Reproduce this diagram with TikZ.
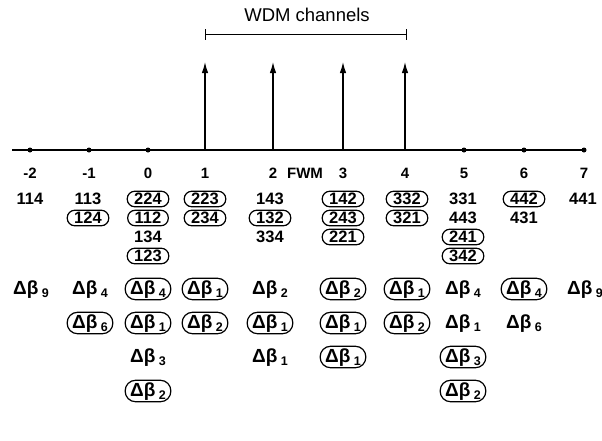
\documentclass[tikz,border=0pt]{standalone}
\usepackage{fontspec}
\setmainfont{Liberation Sans}
\usetikzlibrary{arrows.meta}
\newcommand\dbx[1]{Δβ\kern3.5pt\raisebox{-3.5pt}{\fontsize{12.5}{12.5}\selectfont #1}}
\begin{document}
\begin{tikzpicture}[x=1pt,y=-1pt,
  num/.style={font=\bfseries\fontsize{16.5}{16.5}\selectfont, inner sep=0pt, text height=11.8pt, text depth=0pt, anchor=center},
  cnum/.style={num, draw, line width=1.2pt, rounded corners=7.5pt, minimum height=15.5pt, inner xsep=7pt},
  db/.style={font=\bfseries\fontsize{19}{19}\selectfont, inner sep=0pt, text height=14pt, text depth=3.5pt, anchor=center},
  cdb/.style={db, draw, line width=1.2pt, rounded corners=10.5pt, minimum height=21.5pt, inner xsep=5pt},
  axlab/.style={font=\bfseries\fontsize{15}{15}\selectfont, inner sep=0pt, text height=11pt, text depth=0pt},
  dot/.style={circle, fill, inner sep=0pt, minimum size=5pt},
  chan/.style={line width=1.3pt, -{Latex[length=11pt,width=6.5pt]}}
]
\useasboundingbox (0,0) rectangle (602,440);
% title and bracket
\node[font=\fontsize{18.5}{18.5}\selectfont, inner sep=0pt] (title) at (307,15) {WDM channels};
\coordinate (brL) at (205,34);
\coordinate (brR) at (406,34);
\draw[line width=1pt] (brL) -- (brR);
\draw[line width=1pt] ([yshift=-5.5]brL) -- ([yshift=5.5]brL);
\draw[line width=1pt] ([yshift=-5.5]brR) -- ([yshift=5.5]brR);
% axis
\coordinate (axL) at (12,150);
\coordinate (axR) at (586,150);
\draw[line width=1.3pt] (axL) -- (axR);
\node[dot] (dm2) at (30,150) {};
\node[dot] (dm1) at (89,150) {};
\node[dot] (d0) at (148,150) {};
\node[dot] (d5) at (464,150) {};
\node[dot] (d6) at (524,150) {};
\node[dot] (d7) at (584,150) {};
% channels
\coordinate (b1) at (205,150); \coordinate (t1) at (205,62);
\coordinate (b2) at (273,150); \coordinate (t2) at (273,62);
\coordinate (b3) at (343,150); \coordinate (t3) at (343,62);
\coordinate (b4) at (405,150); \coordinate (t4) at (405,62);
\draw[chan] (b1) -- (t1);
\draw[chan] (b2) -- (t2);
\draw[chan] (b3) -- (t3);
\draw[chan] (b4) -- (t4);
% axis labels
\node[axlab] (lm2) at (30,173) {-2};
\node[axlab] (lm1) at (89,173) {-1};
\node[axlab] (l0) at (148,173) {0};
\node[axlab] (l1) at (205,173) {1};
\node[axlab] (l2) at (273,173) {2};
\node[axlab] (lfwm) at (305,173) {FWM};
\node[axlab] (l3) at (343,173) {3};
\node[axlab] (l4) at (405,173) {4};
\node[axlab] (l5) at (464,173) {5};
\node[axlab] (l6) at (524,173) {6};
\node[axlab] (l7) at (584,173) {7};
% FWM products
\node[num]  (p114) at (30,199) {114};
\node[num]  (p113) at (88,199) {113};
\node[cnum] (p224) at (148,199) {224};
\node[cnum] (p223) at (205,199) {223};
\node[num]  (p143) at (270,199) {143};
\node[cnum] (p142) at (343,199) {142};
\node[cnum] (p332) at (407,199) {332};
\node[num]  (p331) at (463,199) {331};
\node[cnum] (p442) at (524,199) {442};
\node[num]  (p441) at (583,199) {441};
\node[cnum] (p124) at (88,218) {124};
\node[cnum] (p112) at (148,218) {112};
\node[cnum] (p234) at (205,218) {234};
\node[cnum] (p132) at (270,218) {132};
\node[cnum] (p243) at (343,218) {243};
\node[cnum] (p321) at (407,218) {321};
\node[num]  (p443) at (463,218) {443};
\node[num]  (p431) at (524,218) {431};
\node[num]  (p134) at (148,237) {134};
\node[num]  (p334) at (270,237) {334};
\node[cnum] (p221) at (343,237) {221};
\node[cnum] (p241) at (463,237) {241};
\node[cnum] (p123) at (148,256) {123};
\node[cnum] (p342) at (463,256) {342};
% phase mismatch
\node[db]  (a1) at (31,289) {\dbx{9}};
\node[db]  (a2) at (90,289) {\dbx{4}};
\node[cdb] (a3) at (148,289) {\dbx{4}};
\node[cdb] (a4) at (205,289) {\dbx{1}};
\node[db]  (a5) at (270,289) {\dbx{2}};
\node[cdb] (a6) at (343,289) {\dbx{2}};
\node[cdb] (a7) at (407,289) {\dbx{1}};
\node[db]  (a8) at (463,289) {\dbx{4}};
\node[cdb] (a9) at (524,289) {\dbx{4}};
\node[db]  (a10) at (585,289) {\dbx{9}};
\node[cdb] (b2x) at (90,323) {\dbx{6}};
\node[cdb] (b3x) at (148,323) {\dbx{1}};
\node[cdb] (b4x) at (205,323) {\dbx{2}};
\node[cdb] (b5x) at (270,323) {\dbx{1}};
\node[cdb] (b6x) at (343,323) {\dbx{1}};
\node[cdb] (b7x) at (407,323) {\dbx{2}};
\node[db]  (b8x) at (463,323) {\dbx{1}};
\node[db]  (b9x) at (524,323) {\dbx{6}};
\node[db]  (c3x) at (148,357) {\dbx{3}};
\node[db]  (c5x) at (270,357) {\dbx{1}};
\node[cdb] (c6x) at (343,357) {\dbx{1}};
\node[cdb] (c8x) at (463,357) {\dbx{3}};
\node[cdb] (d3x) at (148,391) {\dbx{2}};
\node[cdb] (d8x) at (463,391) {\dbx{2}};
\end{tikzpicture}
\end{document}
